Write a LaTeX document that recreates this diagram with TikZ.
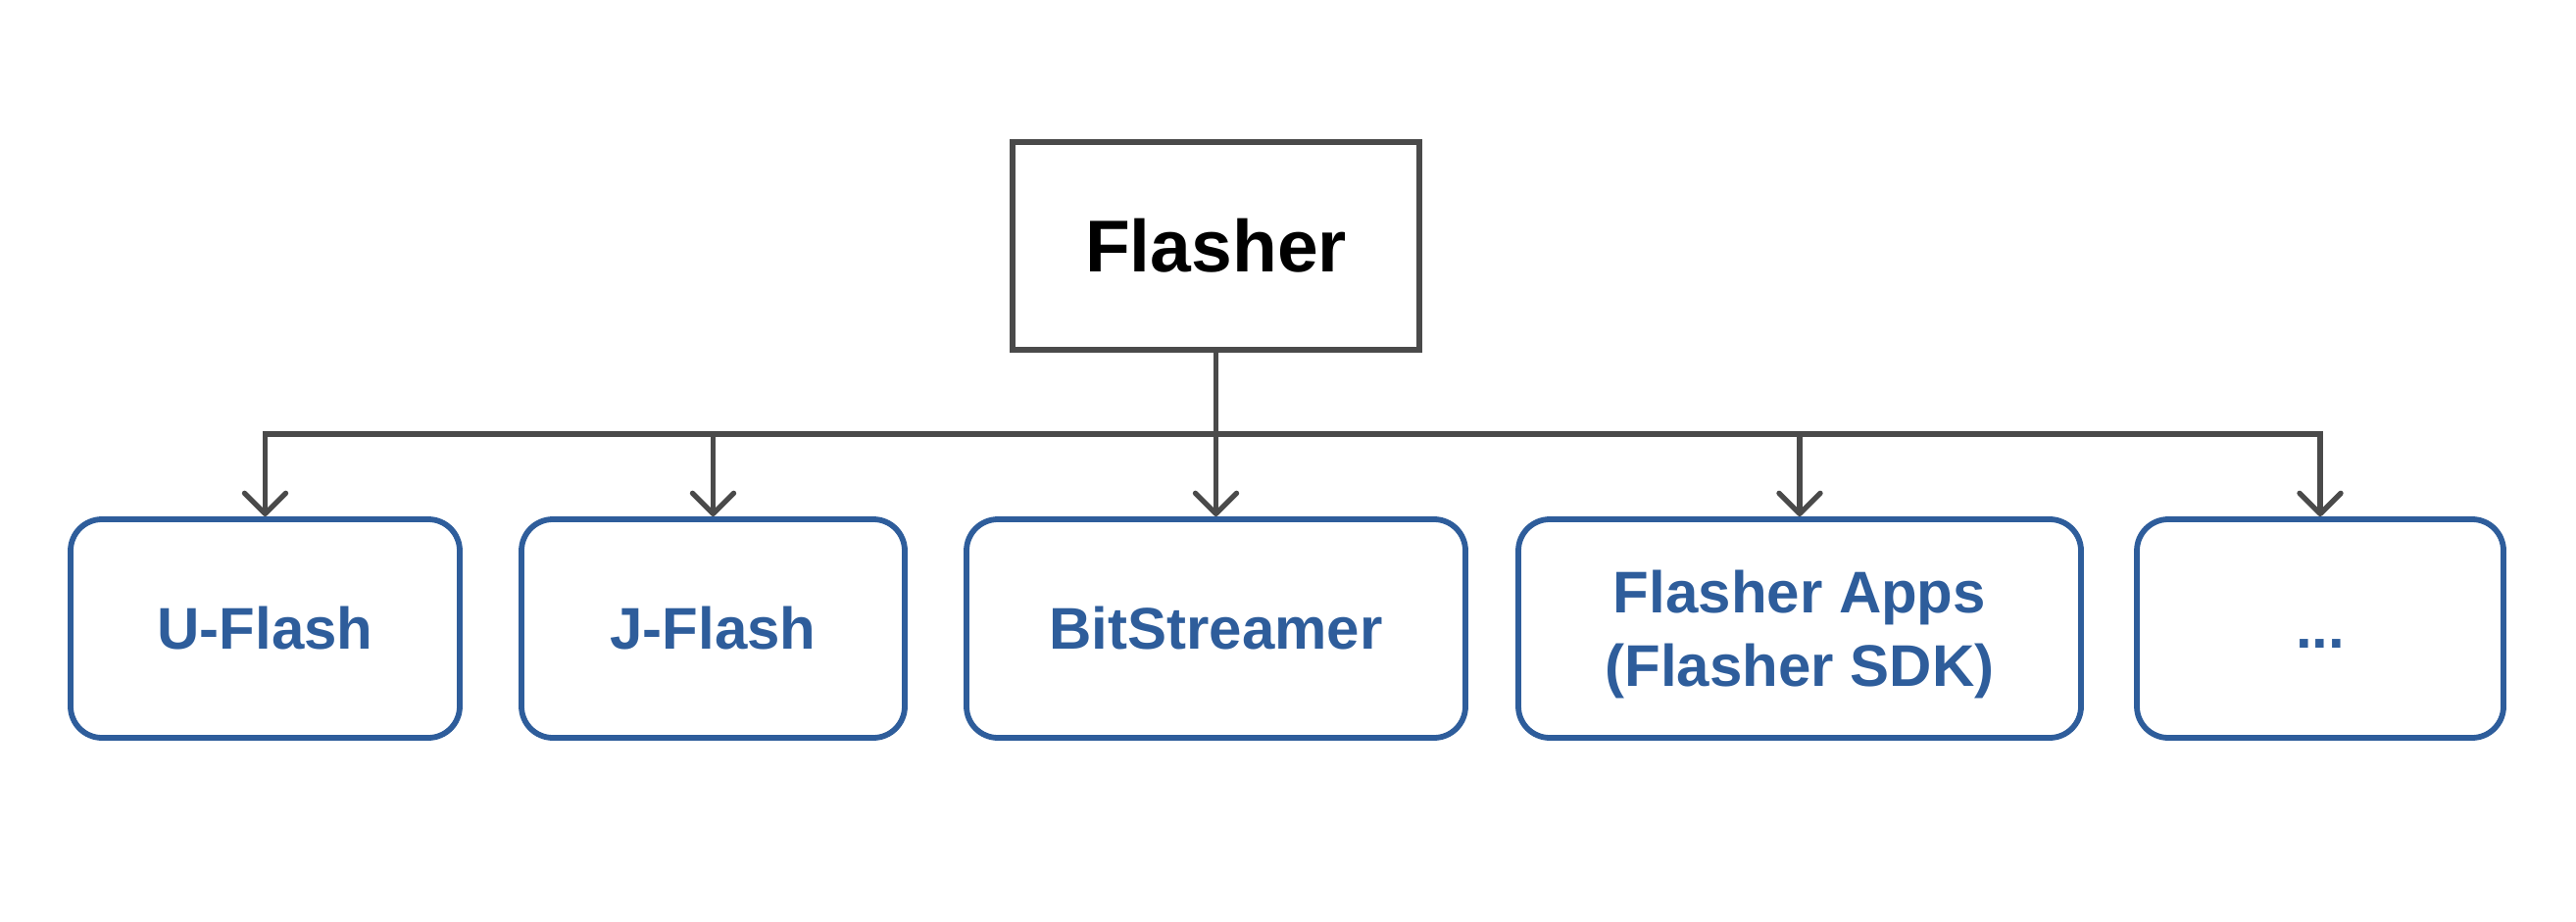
\documentclass[tikz,border=0pt]{standalone}
\usepackage{fontspec}
\setmainfont{Liberation Sans}
\usetikzlibrary{arrows.meta}
\definecolor{linegray}{HTML}{4A4A4A}
\definecolor{boxblue}{HTML}{2E5D9B}
\begin{document}
\begin{tikzpicture}[x=0.5pt,y=-0.5pt,
  topbox/.style={draw=linegray, line width=2.8pt, minimum width=207.5pt, minimum height=106pt,
    inner sep=0pt, font=\bfseries\fontsize{37.5pt}{45pt}\selectfont, text=black},
  leaf/.style={draw=boxblue, line width=2.9pt, rounded corners=16pt, minimum height=111.5pt,
    inner sep=0pt, align=center, text=boxblue, font=\bfseries\fontsize{30pt}{37.5pt}\selectfont},
  conn/.style={draw=linegray, line width=2.7pt, line join=miter},
  arr/.style={conn,
    -{Straight Barb[length=10.5pt,width=21pt,line cap=round,line join=round]}}
]
\useasboundingbox (0,0) rectangle (2628,941);
\node[topbox] (F) at (1240.5,251) {Flasher};
\node[leaf, minimum width=198.5pt] (U) at (270.5,641.5) {U-Flash};
\node[leaf, minimum width=195.5pt] (J) at (727.5,641.5) {J-Flash};
\node[leaf, minimum width=254.5pt] (B) at (1240.5,641.5) {BitStreamer};
\node[leaf, minimum width=287pt, text depth=0pt] (A) at (1836,641.5) {Flasher Apps\\(Flasher SDK)};
\node[leaf, minimum width=187pt] (D) at (2367,641.5) {\vphantom{U}...};
\coordinate (bar) at (1240.5,443);
\draw[conn] (F.south) -- (bar);
\foreach \n in {U,J,B,A,D}{
  \draw[arr] (bar) -| (\n.north);
}
\end{tikzpicture}
\end{document}
